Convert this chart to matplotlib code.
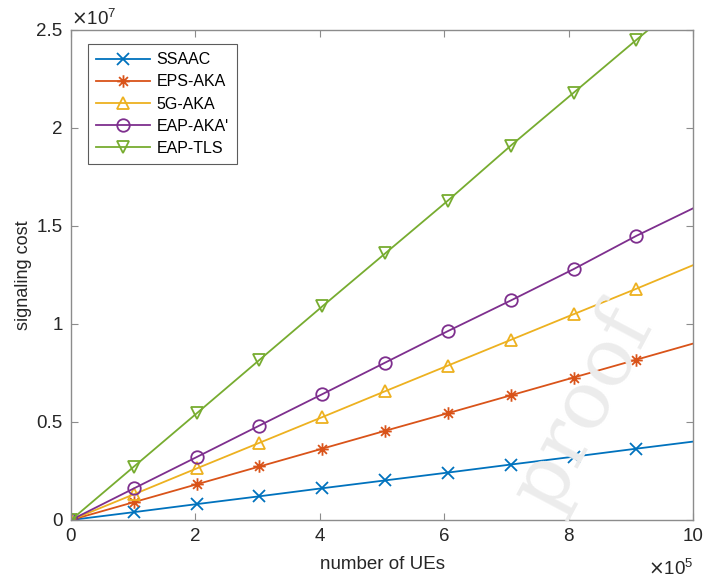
import numpy as np
import matplotlib
matplotlib.use("Agg")
import matplotlib.pyplot as plt
from matplotlib.path import Path

plt.rcParams['font.family'] = ['Liberation Sans', 'DejaVu Sans']

# x positions (in units of 1e5 UEs): markers every 1.0101e5, line runs to 1e6
ues = [0, 1.0101, 2.0202, 3.0303, 4.0404, 5.0505, 6.0606, 7.0707, 8.0808, 9.0909, 10.0]

# signaling cost (in units of 1e6)
ssaac = [0, 0.40, 0.81, 1.21, 1.62, 2.02, 2.42, 2.83, 3.23, 3.64, 4.0]
eps_aka = [0, 0.91, 1.82, 2.73, 3.64, 4.55, 5.45, 6.36, 7.27, 8.18, 9.0]
aka_5g = [0, 1.31, 2.63, 3.94, 5.25, 6.57, 7.88, 9.19, 10.5, 11.8, 13.0]
eap_aka = [0, 1.61, 3.21, 4.82, 6.42, 8.03, 9.64, 11.2, 12.8, 14.5, 15.9]
eap_tls = [0, 2.72, 5.44, 8.17, 10.9, 13.6, 16.3, 19.1, 21.8, 24.5, 26.9]

labels = ['SSAAC', 'EPS-AKA', '5G-AKA', "EAP-AKA'", 'EAP-TLS']
colors = ['#0072BD', '#D95319', '#EDB120', '#7E2F8E', '#77AC30']

# MATLAB style asterisk: + and x overlaid
d = 0.7071
asterisk = Path([(-1, 0), (1, 0), (0, -1), (0, 1), (-d, -d), (d, d), (-d, d), (d, -d)],
                [Path.MOVETO, Path.LINETO] * 4)
markers = ['x', asterisk, '^', 'o', 'v']
msizes = [8, 9, 9, 9, 9]

fig = plt.figure(figsize=(7.03, 5.83), dpi=100)
ax = fig.add_axes([71 / 703, 63 / 583, 622 / 703, 490 / 583])

# faint watermark
fig.text(0.83, 0.30, 'proof', fontsize=58, family='DejaVu Serif', color='#ececec',
         rotation=62, ha='center', va='center', zorder=0)
ax.set_facecolor('none')

series = [ssaac, eps_aka, aka_5g, eap_aka, eap_tls]
for ys, lab, c, m, ms in zip(series, labels, colors, markers, msizes):
    ax.plot(ues, ys, color=c, marker=m, markevery=slice(0, 10), markersize=ms,
            markerfacecolor='none', markeredgewidth=1.3, linewidth=1.3, label=lab)

ax.set_xlim(0, 10)
ax.set_ylim(0, 25)
ax.set_xticks([0, 2, 4, 6, 8, 10])
ax.set_xticklabels(['0', '2', '4', '6', '8', '10'])
ax.set_yticks([0, 5, 10, 15, 20, 25])
ax.set_yticklabels(['0', '0.5', '1', '1.5', '2', '2.5'])

grey = '#8c8c8c'
txt = '#262626'
for s in ax.spines.values():
    s.set_color(grey)
    s.set_linewidth(1.0)
ax.tick_params(direction='in', length=5, color=grey, labelsize=13.5, labelcolor=txt,
               top=True, right=True, pad=6)

ax.set_xlabel('number of UEs', fontsize=13.5, color=txt, labelpad=8)
ax.set_ylabel('signaling cost', fontsize=13, color=txt, labelpad=3)

ax.text(0.0, 1.003, r'$\times\mathregular{10^{7}}$', transform=ax.transAxes,
        fontsize=13.5, color=txt, ha='left', va='bottom')
ax.text(1.0, -0.08, r'$\times\mathregular{10^{5}}$', transform=ax.transAxes,
        fontsize=13.5, color=txt, ha='right', va='top')

leg = ax.legend(loc='upper left', bbox_to_anchor=(0.027, 0.971), borderaxespad=0,
                fontsize=11.5, frameon=True, fancybox=False, borderpad=0.5,
                handlelength=3.4, labelspacing=0.45, handletextpad=0.4)
leg.get_frame().set_edgecolor('#333333')
leg.get_frame().set_linewidth(0.8)

fig.savefig('out.png', dpi=100)
